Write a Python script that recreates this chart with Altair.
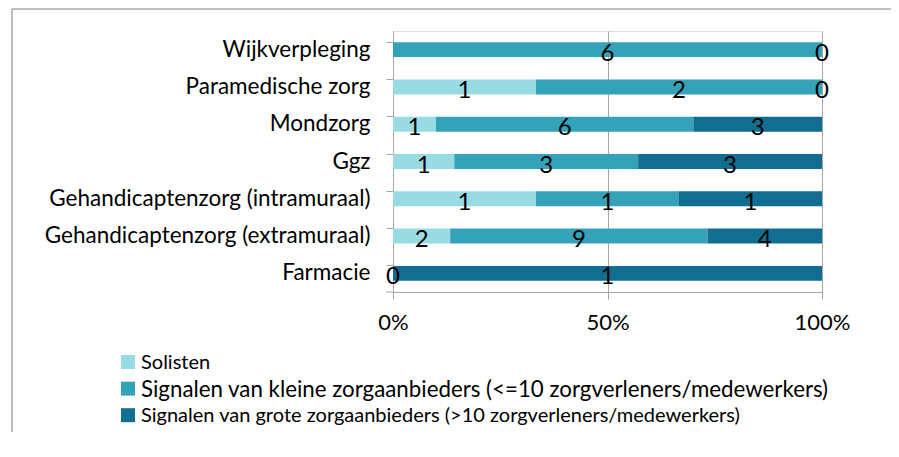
import altair as alt
import pandas as pd

categories = ["Wijkverpleging", "Paramedische zorg", "Mondzorg", "Ggz",
              "Gehandicaptenzorg (intramuraal)", "Gehandicaptenzorg (extramuraal)", "Farmacie"]
series = ["Solisten",
          "Signalen van kleine zorgaanbieders (<=10 zorgverleners/medewerkers)",
          "Signalen van grote zorgaanbieders (>10 zorgverleners/medewerkers)"]
solisten = [None, 1, 1, 1, 1, 2, None]
klein = [6, 2, 6, 3, 1, 9, 0]
groot = [0, 0, 3, 3, 1, 4, 1]
colors = ["#99DBE3", "#34A2B9", "#126E91"]
legend_font_sizes = [20, 22.3, 20]
x_ticks = [0, 0.5, 1]

rows = []
for ci, cat in enumerate(categories):
    for si, vals in enumerate([solisten, klein, groot]):
        v = vals[ci]
        if v is None:
            continue
        rows.append({"categorie": cat, "reeks": series[si], "volgorde": si, "aantal": v})
df = pd.DataFrame(rows)

legend_df = pd.DataFrame({"reeks": series, "idx": list(range(len(series))),
                          "fs": legend_font_sizes})

FONT = "Lato"
W, H = 429, 261
PAD = {"left": 385, "top": 23, "right": 69, "bottom": 140}

base = alt.Chart(df).transform_joinaggregate(
    totaal="sum(aantal)", groupby=["categorie"]
).transform_window(
    cum="sum(aantal)", sort=[alt.SortField("volgorde")], groupby=["categorie"],
    frame=[None, 0]
).transform_calculate(
    start="(datum.cum - datum.aantal) / datum.totaal",
    end="datum.cum / datum.totaal",
    mid="(datum.cum - datum.aantal / 2) / datum.totaal",
)

yenc = alt.Y("categorie:N", sort=categories,
             scale=alt.Scale(paddingInner=0.6, paddingOuter=0.3),
             axis=alt.Axis(title=None, bandPosition=0, tickSize=7, tickColor="#A6A6A6",
                           domainColor="#A6A6A6", labelFont=FONT, labelFontSize=22.5,
                           labelColor="#000000", labelPadding=16, labelLimit=0,
                           grid=False))

color_scale = alt.Scale(domain=series, range=colors)

bars = base.mark_bar().encode(
    x=alt.X("start:Q", scale=alt.Scale(domain=[0, 1], nice=False),
            axis=alt.Axis(title=None, values=x_ticks, format="%", grid=True,
                          gridColor="#A6A6A6", tickColor="#A6A6A6", tickSize=7,
                          domainColor="#A6A6A6", labelFont=FONT, labelFontSize=22,
                          labelColor="#000000", labelPadding=13, labelFlush=False)),
    x2="end:Q",
    y=yenc,
    color=alt.Color("reeks:N", scale=color_scale, legend=None),
)

labels = base.mark_text(font=FONT, fontSize=24, color="#000000", baseline="middle", dy=4).encode(
    x=alt.X("mid:Q"),
    y=alt.Y("categorie:N", sort=categories),
    text=alt.Text("aantal:Q"),
)

# manual legend (below the plot)
leg_base = alt.Chart(legend_df).transform_calculate(
    ly="331 + datum.idx * 26.6"
)
leg_sw = leg_base.mark_square(size=196, opacity=1, strokeWidth=0).encode(
    x=alt.value(-265),
    y=alt.Y("ly:Q", scale=None),
    color=alt.Color("reeks:N", scale=color_scale, legend=None),
)
leg_tx = leg_base.mark_text(font=FONT, align="left", baseline="middle", color="#000000", dy=1).encode(
    x=alt.value(-252),
    y=alt.Y("ly:Q", scale=None),
    text="reeks:N",
    size=alt.Size("fs:Q", scale=None, legend=None),
)

frame_df = pd.DataFrame({"k": [0]})
# chart border: only the top and left edges fall inside the picture
border = alt.Chart(frame_df).mark_rect(fillOpacity=0, stroke="#7F7F7F", strokeWidth=1).encode(
    x=alt.value(-381), x2=alt.value(700), y=alt.value(-22), y2=alt.value(700))
bottom_tick = alt.Chart(frame_df).mark_rule(color="#A6A6A6").encode(
    x=alt.value(-7), x2=alt.value(0), y=alt.value(H), y2=alt.value(H))

chart = alt.layer(border, bars, labels, leg_sw, leg_tx, bottom_tick).properties(
    width=W, height=H, padding=PAD,
    autosize=alt.AutoSizeParams(type="none"),
).configure_view(stroke=None).configure(background="#FFFFFF")

chart.save("out.html", embed_options={"renderer": "svg", "actions": False})
